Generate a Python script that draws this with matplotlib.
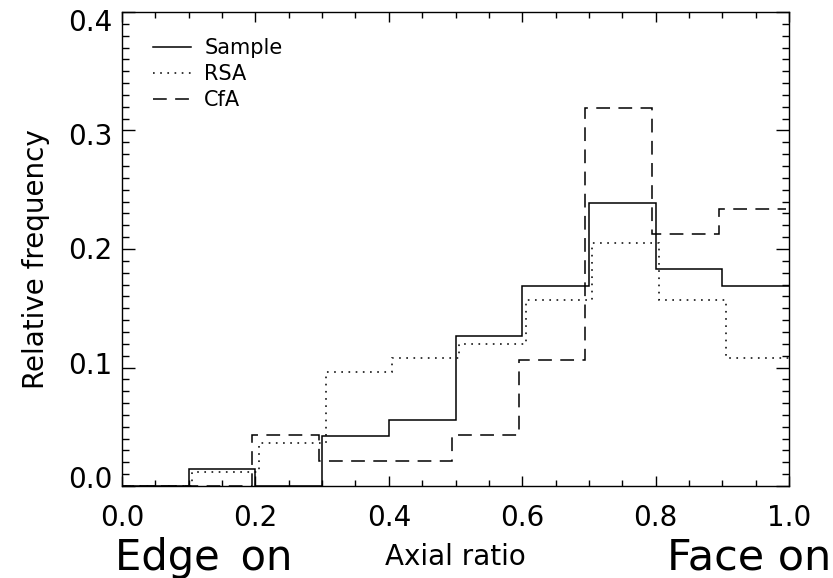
import numpy as np
import matplotlib
matplotlib.use("Agg")
import matplotlib.pyplot as plt
from matplotlib import transforms
from matplotlib.ticker import MultipleLocator

# bin edges of the axial-ratio histogram
bin_edges = [0.0, 0.1, 0.2, 0.3, 0.4, 0.5, 0.6, 0.7, 0.8, 0.9, 1.0]

# relative frequency per bin
sample_freq = [0.0, 0.014, 0.0, 0.042, 0.056, 0.127, 0.169, 0.239, 0.183, 0.169]
rsa_freq = [0.0, 0.012, 0.036, 0.096, 0.108, 0.120, 0.157, 0.205, 0.157, 0.108]
cfa_freq = [0.0, 0.0, 0.043, 0.021, 0.021, 0.043, 0.106, 0.319, 0.213, 0.234]

series_labels = ["Sample", "RSA", "CfA"]

plt.rcParams["font.family"] = ["DejaVu Sans"]

fig = plt.figure(figsize=(8.33, 5.78), dpi=100)
ax = fig.add_axes([122 / 833, 1 - 486 / 578, 667 / 833, 474 / 578])

# IDL-like small horizontal offsets so overlapping steps stay visible
off_rsa = transforms.offset_copy(ax.transData, fig=fig, x=3.5, y=0, units="dots")
off_cfa = transforms.offset_copy(ax.transData, fig=fig, x=-3.5, y=0, units="dots")

lw = 1.1
ax.stairs(sample_freq, bin_edges, baseline=None, color="black", lw=lw,
          linestyle="-", label=series_labels[0])
ax.stairs(rsa_freq, bin_edges, baseline=None, color="black", lw=lw,
          linestyle=(0, (1.1, 3.6)), label=series_labels[1], transform=off_rsa)
ax.stairs(cfa_freq, bin_edges, baseline=None, color="black", lw=lw,
          linestyle=(0, (9.0, 5.5)), label=series_labels[2], transform=off_cfa)

ax.set_xlim(0.0, 1.0)
ax.set_ylim(0.0, 0.4)

ax.xaxis.set_major_locator(MultipleLocator(0.2))
ax.xaxis.set_minor_locator(MultipleLocator(0.05))
ax.yaxis.set_major_locator(MultipleLocator(0.1))
ax.yaxis.set_minor_locator(MultipleLocator(0.01))
ax.xaxis.set_major_formatter(plt.FormatStrFormatter("%.1f"))
ax.yaxis.set_major_formatter(plt.FormatStrFormatter("%.1f"))

ax.tick_params(axis="both", which="both", direction="in", top=True, right=True,
               width=1.0, colors="black", labelsize=20)
ax.tick_params(axis="x", which="major", length=7, pad=13)
ax.tick_params(axis="x", which="minor", length=4.3)
ax.tick_params(axis="y", which="major", length=9.5, pad=7)
ax.tick_params(axis="y", which="minor", length=5)
for sp in ax.spines.values():
    sp.set_linewidth(1.0)

ax.set_xlabel("Axial ratio", fontsize=20, labelpad=8)
ax.set_ylabel("Relative frequency", fontsize=20)
ax.yaxis.set_label_coords(-0.108, 0.479)

ax.legend(loc="upper left", bbox_to_anchor=(0.046, 0.945), frameon=False,
          fontsize=15, handlelength=1.85, handletextpad=0.62,
          labelspacing=0.29, borderpad=0, borderaxespad=0)

fig.text(115 / 833, 1 - 570 / 578, "Edge\u2002on", fontsize=30, ha="left", va="baseline")
fig.text(749 / 833, 1 - 570 / 578, "Face on", fontsize=31, ha="center", va="baseline")

# y labels in the original sit slightly squeezed toward the middle of the axis
fig.canvas.draw()
for tick in ax.yaxis.get_major_ticks():
    dy_px = 8 - (0.4 - tick.get_loc()) * 42.5
    shift = transforms.ScaledTranslation(0, -dy_px / 100, fig.dpi_scale_trans)
    tick.label1.set_transform(tick.label1.get_transform() + shift)

fig.savefig("out.png", dpi=100)
